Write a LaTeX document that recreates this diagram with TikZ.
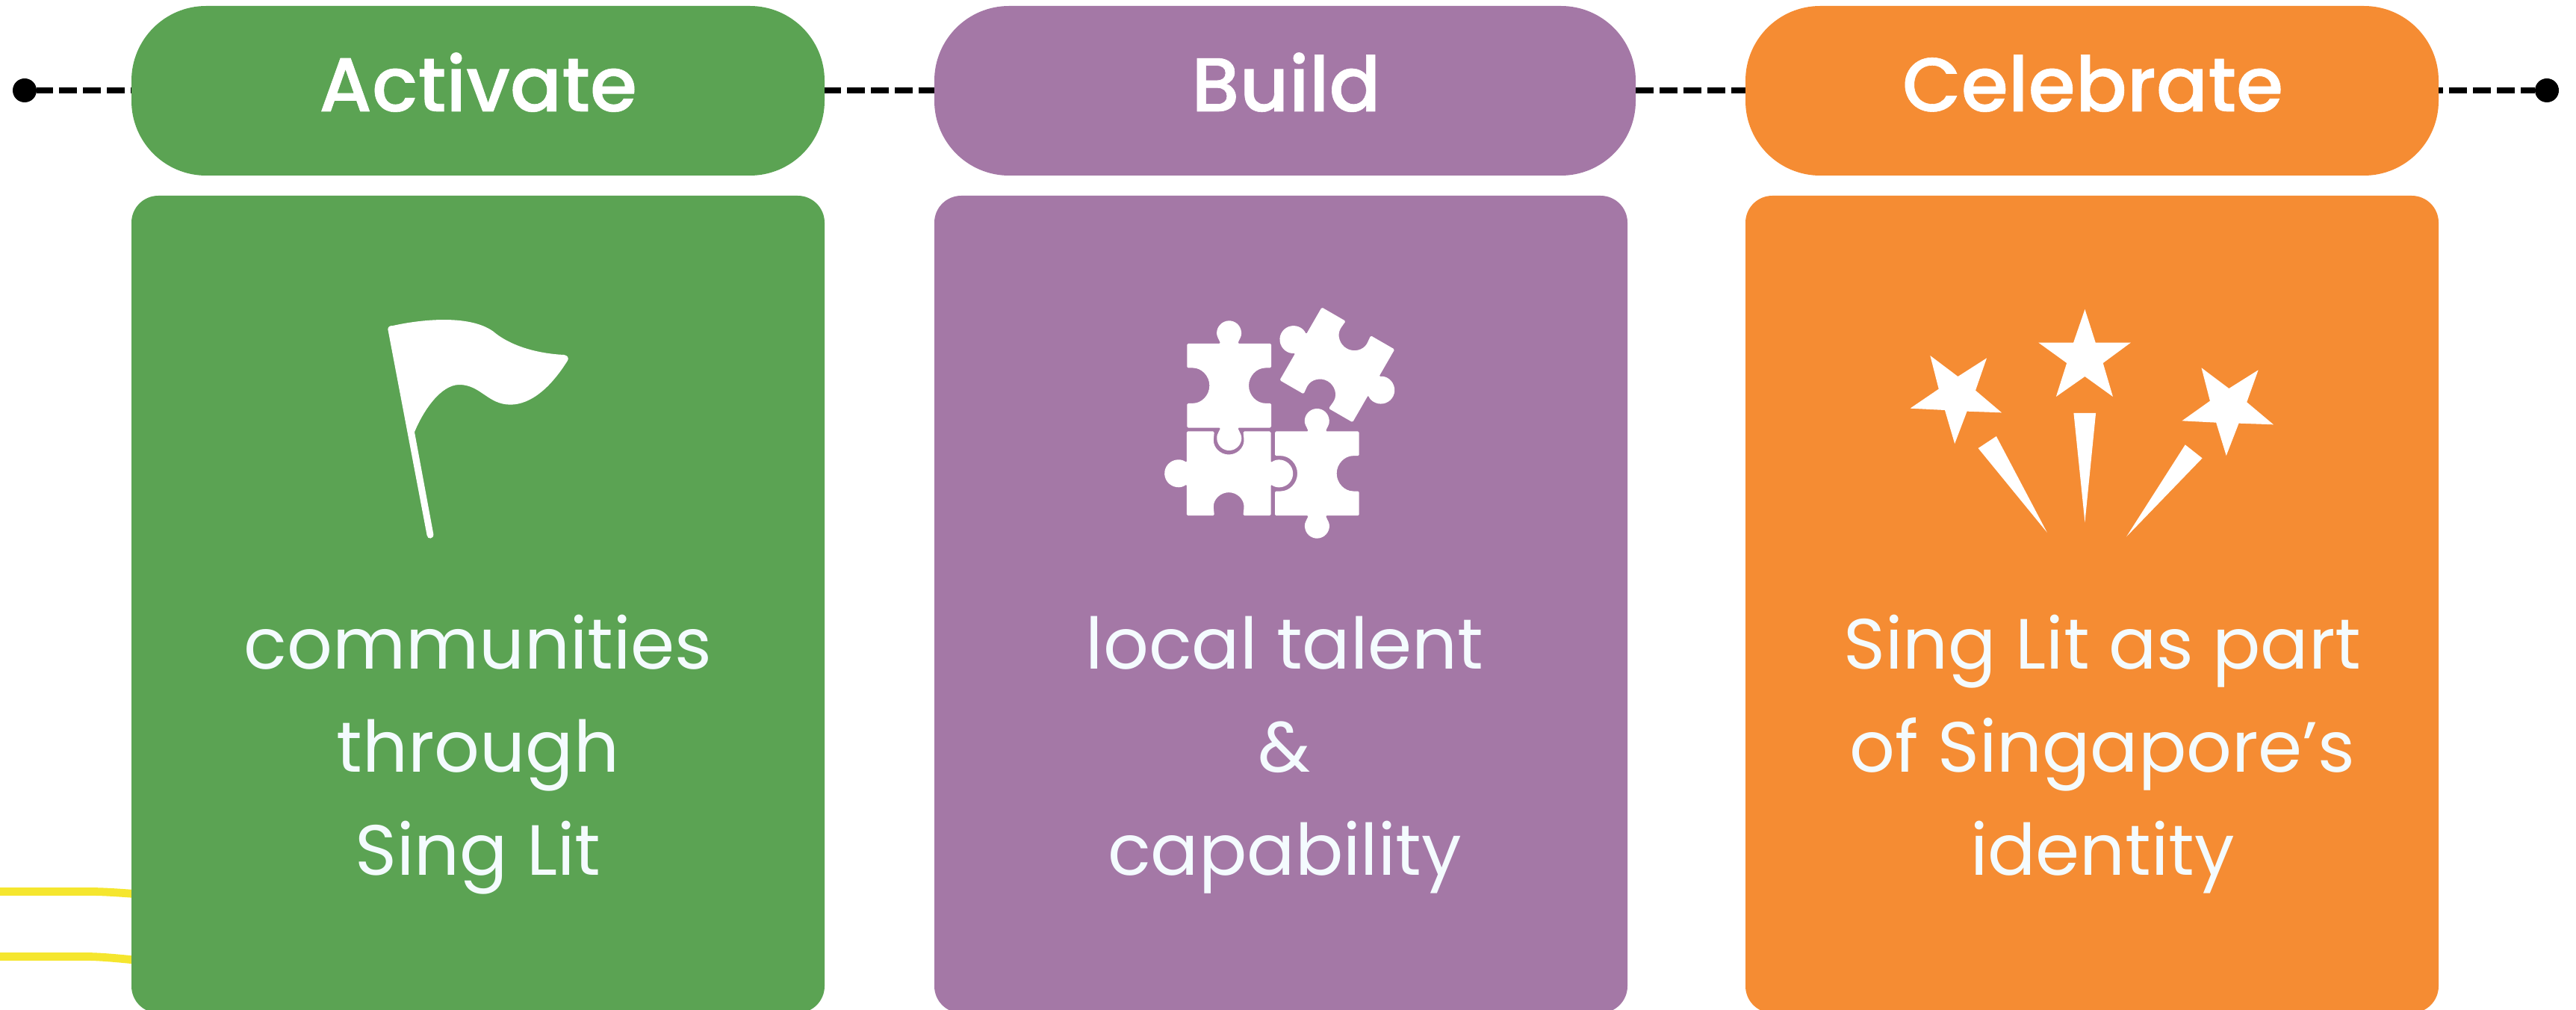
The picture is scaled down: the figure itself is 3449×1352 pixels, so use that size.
\documentclass[tikz,border=0pt]{standalone}
\usepackage{fontspec}
\setmainfont{Poppins}
\newfontfamily\bodyf{Poppins}
\newfontfamily\headf[RawFeature={embolden=0.6}]{Poppins Medium}
\definecolor{cgreen}{HTML}{5BA353}
\definecolor{cpurple}{HTML}{A478A6}
\definecolor{corange}{HTML}{F58C33}
\definecolor{cyellow}{HTML}{F5E62E}
\definecolor{ctext}{HTML}{F4FBFE}
\tikzset{
  headbox/.style={rectangle,rounded corners=50pt,minimum width=#1*0.5pt,minimum height=113.5pt,inner sep=0pt},
  bodybox/.style={rectangle,rounded corners=18pt,minimum width=464pt,minimum height=547pt,inner sep=0pt},
  headtext/.style={anchor=base,text=white,font=\headf\fontsize{51}{51}\selectfont,inner sep=0pt},
  bodytext/.style={anchor=base,align=center,text=ctext,font=\bodyf\fontsize{47.6}{69}\selectfont,inner sep=0pt},
  dot/.style={circle,fill=black,minimum size=16pt,inner sep=0pt},
  link/.style={line width=4.2pt,black},
  yline/.style={line width=5.4pt,cyellow}
}
% knobs left/right, notches top/bottom
\newcommand{\pieceH}[3]{%
\begin{scope}[shift={(1500+#1/3,380+#2/3)},x=0.16667pt,y=0.16667pt,rotate=#3]
\fill[white,rounded corners=0.8pt] (-169,169) -- (-58,169) -- (-61,137) arc (180:360:61) -- (58,169) -- (169,169)
 -- (169,43) arc (128.2:-128.2:55) -- (169,-169) -- (58,-169) -- (61,-137) arc (0:180:61) -- (-58,-169) -- (-169,-169)
 -- (-169,-43) arc (-51.8:-308.2:55) -- cycle;
\end{scope}}
% knobs top/bottom, notches left/right
\newcommand{\pieceV}[2]{%
\begin{scope}[shift={(1500+#1/3,380+#2/3)},x=0.16667pt,y=0.16667pt]
\fill[white,rounded corners=0.8pt] (-169,169) -- (-34,169) -- (-44.4,190.8) arc (205:-25:49) -- (34,169) -- (169,169)
 -- (169,71) -- (150,71) arc (90:270:71) -- (169,-71) -- (169,-169) -- (34,-169) -- (44.4,-190.8) arc (25:-205:49) -- (-34,-169) -- (-169,-169)
 -- (-169,-71) -- (-150,-71) arc (-90:90:71) -- (-169,71) -- cycle;
\end{scope}}
\begin{document}
\begin{tikzpicture}[x=0.5pt,y=-0.5pt]
\clip (0,0) rectangle (3449,1352);
% yellow lines behind the green card
\coordinate (ya) at (0,1193.5); \coordinate (yb) at (0,1280.5);
\coordinate (yc) at (200,1198); \coordinate (yd) at (200,1287);
\draw[yline] (ya) -- (120,1193.5) .. controls (140,1193.5) and (160,1195) .. (yc);
\draw[yline] (yb) -- (115,1280.5) .. controls (135,1280.5) and (160,1283) .. (yd);
% header pills
\node[headbox=928,fill=cgreen] (h1) at (640,121.5) {};
\node[headbox=939,fill=cpurple] (h2) at (1720.5,121.5) {};
\node[headbox=928,fill=corange] (h3) at (2801,121.5) {};
% body cards
\node[bodybox,fill=cgreen] (b1) at (640,809) {};
\node[bodybox,fill=cpurple] (b2) at (1715,809) {};
\node[bodybox,fill=corange] (b3) at (2801,809) {};
% end dots and dashed links
\node[dot] (d1) at (33,121) {};
\node[dot] (d2) at (3410,121) {};
\draw[link,dash pattern=on 12pt off 4pt,dash phase=1pt] (d1.east) -- (d1.east-|h1.west);
\draw[link,dash pattern=on 12pt off 4pt,dash phase=1pt] (h1.east|-d1) -- (h2.west|-d1);
\draw[link,dash pattern=on 12pt off 4pt] (h2.east|-d1) -- (h3.west|-d1);
\draw[link,dash pattern=on 12pt off 4pt,dash phase=9pt] (h3.east|-d2) -- (d2.west);
% header texts
\node[headtext] (t1) at (640,149) {Activate};
\node[headtext] (t2) at (1722,149) {Build};
\node[headtext] (t3) at (2802,149) {Celebrate};
% body texts
\node[bodytext] (c1) at (640,1171) {communities\\through\\Sing Lit};
\node[bodytext] (c2) at (1720,1171) {local talent\\\&\\capability};
\node[bodytext] (c3) at (2815,1171) {Sing Lit as part\\of Singapore’s\\identity};
% flag
\begin{scope}[shift={(400,380)},scale=0.33333]
\fill[white] (358,182) .. controls (358,172) and (368,167) .. (378,168)
 .. controls (480,145) and (680,120) .. (780,190)
 .. controls (850,250) and (960,280) .. (1065,285)
 .. controls (1080,287) and (1086,298) .. (1080,308)
 .. controls (1010,420) and (930,485) .. (850,485)
 .. controls (760,485) and (730,405) .. (645,405)
 .. controls (570,405) and (500,510) .. (465,595)
 -- (541,1005) .. controls (543,1025) and (517,1028) .. (515,1010) -- cycle;
\end{scope}
% puzzle
\pieceH{871}{325}{-30}
\pieceV{437}{408.5}
\pieceH{435.5}{761.5}{0}
\pieceV{790}{761.5}
% fireworks
\begin{scope}[shift={(2520,380)},xscale=0.35714,yscale=0.33333]
\fill[white] (760,102) -- (800,236) -- (932,236) -- (828,318) -- (865,453) -- (760,372) -- (652,453) -- (692,318) -- (586,236) -- (717,236) -- cycle;
\fill[white] (180,288) -- (284,372) -- (392,298) -- (350,428) -- (448,517) -- (318,512) -- (272,642) -- (235,507) -- (105,500) -- (212,422) -- cycle;
\fill[white] (1197,337) -- (1300,420) -- (1410,346) -- (1367,475) -- (1467,565) -- (1337,560) -- (1290,690) -- (1252,557) -- (1124,550) -- (1229,470) -- cycle;
\fill[white] (428,612) -- (360,660) -- (618,998) -- cycle;
\fill[white] (718,519) -- (801,519) -- (760,958) -- cycle;
\fill[white] (1136,646) -- (1200,700) -- (916,1015) -- cycle;
\end{scope}
\end{tikzpicture}
\end{document}
